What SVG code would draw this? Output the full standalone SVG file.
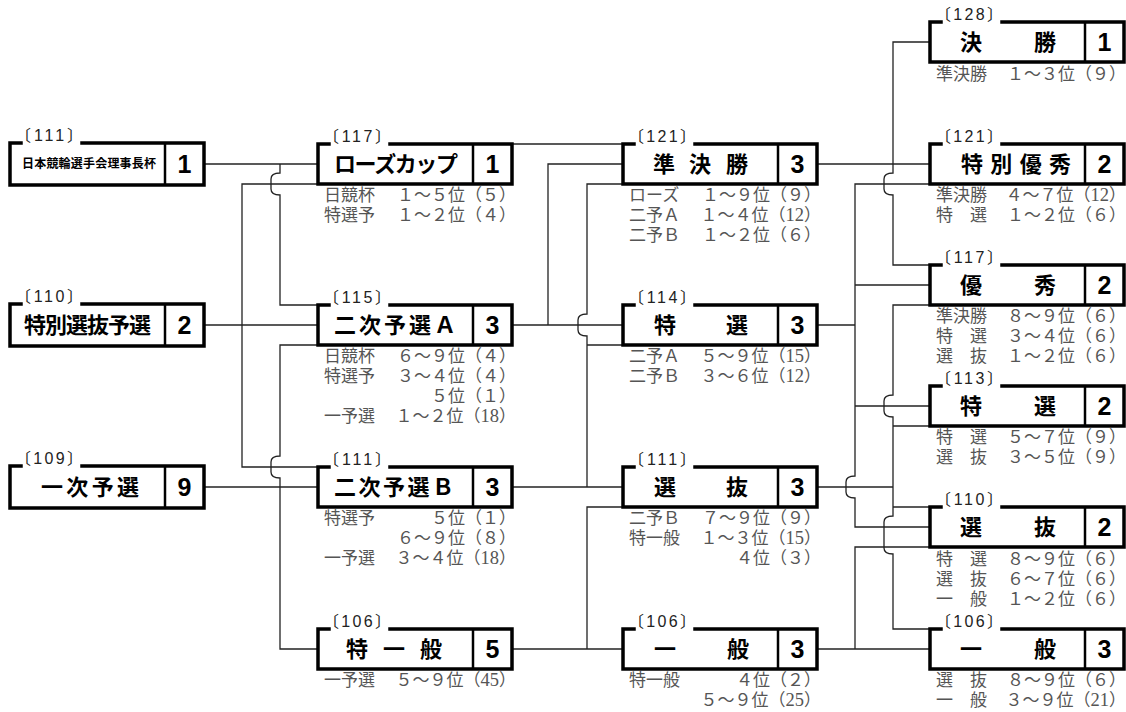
<svg xmlns="http://www.w3.org/2000/svg" width="1126" height="712" viewBox="0 0 1126 712">
<style>
.frame{fill:none;stroke:#000;stroke-width:3.5;stroke-linecap:square;stroke-linejoin:miter}
.divl{fill:none;stroke:#000;stroke-width:2.5}
.tag{font-family:"Liberation Sans","Noto Sans CJK JP",sans-serif;font-size:16px;fill:#222}
.nm{font-family:"Noto Sans CJK JP",sans-serif;font-size:22px;font-weight:bold;fill:#000}
.c{text-anchor:middle}
.num{font-family:"Liberation Sans",Arial,sans-serif;font-size:25px;font-weight:bold;text-anchor:middle;fill:#000}
.sub{font-family:"Liberation Serif","Noto Sans CJK JP",serif;font-size:17px;fill:#555}
.r{text-anchor:end}
.d{font-size:18.5px}
.wire{fill:none;stroke:#222;stroke-width:1.3}
</style>
<defs>
<g id="box40"><path class="frame" d="M11,0H0V40H194V0H72"/><path class="divl" d="M155,0V40"/></g>
<g id="box42"><path class="frame" d="M11,0H0V42H194V0H72"/><path class="divl" d="M155,0V42"/></g>
</defs>
<rect width="1126" height="712" fill="#fff"/>
<g id="connectors" class="wire">
<path d="M204,164H318"/>
<path d="M280,164V173q-9,0 -9,6v10q0,6 9,6V305H318"/>
<path d="M318,184H242V467H318"/>
<path d="M204,325H318"/>
<path d="M318,345H280V456q-9,0 -9,6v10q0,6 9,6V649H318"/>
<path d="M204,487H318"/>
<path d="M512,144H623"/>
<path d="M623,164H548V325"/>
<path d="M512,325H623"/>
<path d="M623,184H587V314q-9,0 -9,6v10q0,6 9,6V487"/>
<path d="M587,345H623"/>
<path d="M512,487H623"/>
<path d="M623,507H587V649"/>
<path d="M512,649H623"/>
<path d="M817,164H930"/>
<path d="M930,42H893V173q-9,0 -9,6v10q0,6 9,6V265H930"/>
<path d="M930,184H855V476q-9,0 -9,6v10q0,6 9,6V527H930"/>
<path d="M855,285H930"/>
<path d="M817,325H855"/>
<path d="M855,406H930"/>
<path d="M930,305H893V395q-9,0 -9,6v10q0,6 9,6V516q-9,0 -9,6v26q0,6 9,6V629H930"/>
<path d="M893,426H930"/>
<path d="M817,487H893"/>
<path d="M893,507H930"/>
<path d="M930,547H855V649"/>
<path d="M817,649H930"/>
</g>

<!-- Column 1 -->
<g id="n-rijicho">
<use href="#box42" x="10" y="143"/>
<text class="tag" x="15" y="141" textLength="68" lengthAdjust="spacing">〔111〕</text>
<text class="nm" x="22" y="168" style="font-size:12px" textLength="134" lengthAdjust="spacing">日本競輪選手会理事長杯</text>
<text class="num" x="184.5" y="173">1</text>
</g>
<g id="n-tokusenyo">
<use href="#box42" x="10" y="304"/>
<text class="tag" x="15" y="302" textLength="68" lengthAdjust="spacing">〔110〕</text>
<text class="nm" x="24" y="333" textLength="127" lengthAdjust="spacing">特別選抜予選</text>
<text class="num" x="184.5" y="334">2</text>
</g>
<g id="n-ichiyo">
<use href="#box42" x="10" y="466"/>
<text class="tag" x="15" y="464" textLength="68" lengthAdjust="spacing">〔109〕</text>
<text class="nm" x="41" y="495" textLength="98" lengthAdjust="spacing">一次予選</text>
<text class="num" x="184.5" y="496">9</text>
</g>

<!-- Column 2 -->
<g id="n-rose">
<use href="#box40" x="318" y="144"/>
<text class="tag" x="323" y="142" textLength="68" lengthAdjust="spacing">〔117〕</text>
<text class="nm" x="334" y="172" textLength="124" lengthAdjust="spacing">ローズカップ</text>
<text class="num" x="492.5" y="173">1</text>
<text class="sub" x="324" y="201">日競杯</text><text class="sub r" x="516" y="201">１～５位（５）</text>
<text class="sub" x="324" y="221">特選予</text><text class="sub r" x="516" y="221">１～２位（４）</text>
</g>
<g id="n-niyoA">
<use href="#box40" x="318" y="305"/>
<text class="tag" x="323" y="303" textLength="68" lengthAdjust="spacing">〔115〕</text>
<text class="nm" x="334" y="333" textLength="122" lengthAdjust="spacing">二次予選Ａ</text>
<text class="num" x="492.5" y="334">3</text>
<text class="sub" x="324" y="362">日競杯</text><text class="sub r" x="516" y="362">６～９位（４）</text>
<text class="sub" x="324" y="382">特選予</text><text class="sub r" x="516" y="382">３～４位（４）</text>
<text class="sub r" x="516" y="402">５位（１）</text>
<text class="sub" x="324" y="422">一予選</text><text class="sub r" x="516" y="422">１～２位（<tspan class="d">18</tspan>）</text>
</g>
<g id="n-niyoB">
<use href="#box40" x="318" y="467"/>
<text class="tag" x="323" y="465" textLength="68" lengthAdjust="spacing">〔111〕</text>
<text class="nm" x="334" y="495" textLength="120" lengthAdjust="spacing">二次予選Ｂ</text>
<text class="num" x="492.5" y="496">3</text>
<text class="sub" x="324" y="524">特選予</text><text class="sub r" x="516" y="524">５位（１）</text>
<text class="sub r" x="516" y="544">６～９位（８）</text>
<text class="sub" x="324" y="564">一予選</text><text class="sub r" x="516" y="564">３～４位（<tspan class="d">18</tspan>）</text>
</g>
<g id="n-tokuippan">
<use href="#box40" x="318" y="629"/>
<text class="tag" x="323" y="627" textLength="68" lengthAdjust="spacing">〔106〕</text>
<text class="nm c" x="357 394 431" y="657">特一般</text>
<text class="num" x="492.5" y="658">5</text>
<text class="sub" x="324" y="686">一予選</text><text class="sub r" x="516" y="686">５～９位（<tspan class="d">45</tspan>）</text>
</g>

<!-- Column 3 -->
<g id="n-junkessho">
<use href="#box40" x="623" y="144"/>
<text class="tag" x="628" y="142" textLength="68" lengthAdjust="spacing">〔121〕</text>
<text class="nm c" x="664 700 737" y="172">準決勝</text>
<text class="num" x="797.5" y="173">3</text>
<text class="sub" x="629" y="201">ローズ</text><text class="sub r" x="821" y="201">１～９位（９）</text>
<text class="sub" x="629" y="221">二予Ａ</text><text class="sub r" x="821" y="221">１～４位（<tspan class="d">12</tspan>）</text>
<text class="sub" x="629" y="241">二予Ｂ</text><text class="sub r" x="821" y="241">１～２位（６）</text>
</g>
<g id="n-tokusen3">
<use href="#box40" x="623" y="305"/>
<text class="tag" x="628" y="303" textLength="68" lengthAdjust="spacing">〔114〕</text>
<text class="nm c" x="665 737" y="333">特選</text>
<text class="num" x="797.5" y="334">3</text>
<text class="sub" x="629" y="362">二予Ａ</text><text class="sub r" x="821" y="362">５～９位（<tspan class="d">15</tspan>）</text>
<text class="sub" x="629" y="382">二予Ｂ</text><text class="sub r" x="821" y="382">３～６位（<tspan class="d">12</tspan>）</text>
</g>
<g id="n-senbatsu3">
<use href="#box40" x="623" y="467"/>
<text class="tag" x="628" y="465" textLength="68" lengthAdjust="spacing">〔111〕</text>
<text class="nm c" x="665 737" y="495">選抜</text>
<text class="num" x="797.5" y="496">3</text>
<text class="sub" x="629" y="524">二予Ｂ</text><text class="sub r" x="821" y="524">７～９位（９）</text>
<text class="sub" x="629" y="544">特一般</text><text class="sub r" x="821" y="544">１～３位（<tspan class="d">15</tspan>）</text>
<text class="sub r" x="821" y="564">４位（３）</text>
</g>
<g id="n-ippan3">
<use href="#box40" x="623" y="629"/>
<text class="tag" x="628" y="627" textLength="68" lengthAdjust="spacing">〔106〕</text>
<text class="nm c" x="665 738" y="657">一般</text>
<text class="num" x="797.5" y="658">3</text>
<text class="sub" x="629" y="686">特一般</text><text class="sub r" x="821" y="686">４位（２）</text>
<text class="sub r" x="821" y="706">５～９位（<tspan class="d">25</tspan>）</text>
</g>

<!-- Column 4 -->
<g id="n-kessho">
<use href="#box40" x="930" y="22"/>
<text class="tag" x="935" y="20" textLength="68" lengthAdjust="spacing">〔128〕</text>
<text class="nm c" x="971 1045" y="50">決勝</text>
<text class="num" x="1104.5" y="51">1</text>
<text class="sub" x="936" y="80">準決勝</text><text class="sub r" x="1126" y="80">１～３位（９）</text>
</g>
<g id="n-tokubetsuyushu">
<use href="#box40" x="930" y="144"/>
<text class="tag" x="935" y="142" textLength="68" lengthAdjust="spacing">〔121〕</text>
<text class="nm" x="961" y="172" textLength="110" lengthAdjust="spacing">特別優秀</text>
<text class="num" x="1104.5" y="173">2</text>
<text class="sub" x="936" y="201">準決勝</text><text class="sub r" x="1126" y="201">４～７位（<tspan class="d">12</tspan>）</text>
<text class="sub" x="936" y="221">特　選</text><text class="sub r" x="1126" y="221">１～２位（６）</text>
</g>
<g id="n-yushu">
<use href="#box40" x="930" y="265"/>
<text class="tag" x="935" y="263" textLength="68" lengthAdjust="spacing">〔117〕</text>
<text class="nm c" x="971 1045" y="293">優秀</text>
<text class="num" x="1104.5" y="294">2</text>
<text class="sub" x="936" y="322">準決勝</text><text class="sub r" x="1126" y="322">８～９位（６）</text>
<text class="sub" x="936" y="342">特　選</text><text class="sub r" x="1126" y="342">３～４位（６）</text>
<text class="sub" x="936" y="362">選　抜</text><text class="sub r" x="1126" y="362">１～２位（６）</text>
</g>
<g id="n-tokusen4">
<use href="#box40" x="930" y="386"/>
<text class="tag" x="935" y="384" textLength="68" lengthAdjust="spacing">〔113〕</text>
<text class="nm c" x="971 1045" y="414">特選</text>
<text class="num" x="1104.5" y="415">2</text>
<text class="sub" x="936" y="443">特　選</text><text class="sub r" x="1126" y="443">５～７位（９）</text>
<text class="sub" x="936" y="463">選　抜</text><text class="sub r" x="1126" y="463">３～５位（９）</text>
</g>
<g id="n-senbatsu4">
<use href="#box40" x="930" y="507"/>
<text class="tag" x="935" y="505" textLength="68" lengthAdjust="spacing">〔110〕</text>
<text class="nm c" x="971 1045" y="535">選抜</text>
<text class="num" x="1104.5" y="536">2</text>
<text class="sub" x="936" y="565">特　選</text><text class="sub r" x="1126" y="565">８～９位（６）</text>
<text class="sub" x="936" y="585">選　抜</text><text class="sub r" x="1126" y="585">６～７位（６）</text>
<text class="sub" x="936" y="605">一　般</text><text class="sub r" x="1126" y="605">１～２位（６）</text>
</g>
<g id="n-ippan4">
<use href="#box40" x="930" y="629"/>
<text class="tag" x="935" y="627" textLength="68" lengthAdjust="spacing">〔106〕</text>
<text class="nm c" x="971 1045" y="657">一般</text>
<text class="num" x="1104.5" y="658">3</text>
<text class="sub" x="936" y="686">選　抜</text><text class="sub r" x="1126" y="686">８～９位（６）</text>
<text class="sub" x="936" y="706">一　般</text><text class="sub r" x="1126" y="706">３～９位（<tspan class="d">21</tspan>）</text>
</g>
</svg>
